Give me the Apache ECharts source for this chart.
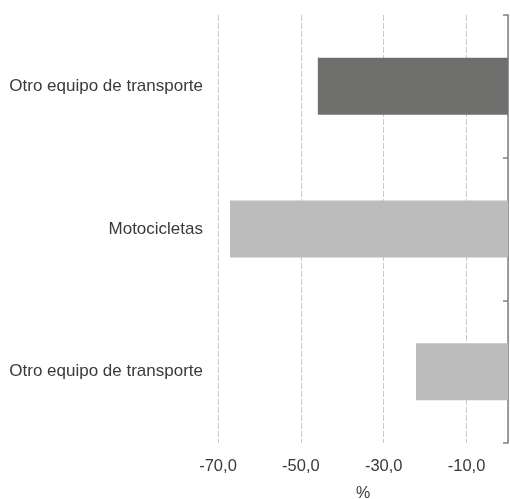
<!DOCTYPE html>
<html><head><meta charset="utf-8">
<script src="https://cdn.jsdelivr.net/npm/echarts@6/dist/echarts.min.js"></script>
<style>html,body{margin:0;padding:0;background:#fff;overflow:hidden}#c{width:510px;height:499px}</style>
</head><body><div id="c"></div>
<script>
// bottom to top
var categories = ["Otro equipo de transporte", "Motocicletas", "Otro equipo de transporte"];
var values = [-22.2, -67.1, -45.9];
var barColors = ["#bcbcbc", "#bcbcbc", "#6f6f6d"];
var xMin = -70, xMax = 0, xInterval = 20;

var chart = echarts.init(document.getElementById('c'));
chart.setOption({
  animation: false,
  grid: {left: 218, right: 2, top: 15, bottom: 56, containLabel: false, outerBoundsMode: 'none'},
  xAxis: {
    type: 'value', min: xMin, max: xMax, interval: xInterval,
    name: '%', nameLocation: 'middle', nameGap: 43,
    nameTextStyle: {fontFamily: 'Liberation Sans', fontSize: 16, color: '#3a3a3a'},
    axisLine: {show: false}, axisTick: {show: false},
    axisLabel: {showMaxLabel: false, margin: 15, fontFamily: 'Liberation Sans', fontSize: 16.5, color: '#3a3a3a',
      formatter: function (v) { return v.toFixed(1).replace('.', ','); }},
    splitLine: {show: true, lineStyle: {type: [6, 2], color: '#c8c8c8', width: 1}}
  },
  yAxis: [{
    type: 'category', position: 'left', data: categories,
    axisLine: {show: false}, axisTick: {show: false},
    axisLabel: {margin: 15, fontFamily: 'Liberation Sans', fontSize: 17, color: '#3a3a3a'}
  }, {
    type: 'category', position: 'right', data: categories,
    axisLine: {show: true, lineStyle: {color: '#808080', width: 1.5}},
    axisTick: {show: true, inside: true, length: 5, lineStyle: {color: '#808080', width: 1.5}},
    axisLabel: {show: false}
  }],
  series: [{
    type: 'bar', yAxisIndex: 0, barCategoryGap: '60%',
    data: values.map(function (v, i) { return {value: v, itemStyle: {color: barColors[i]}}; })
  }]
});
</script></body></html>
